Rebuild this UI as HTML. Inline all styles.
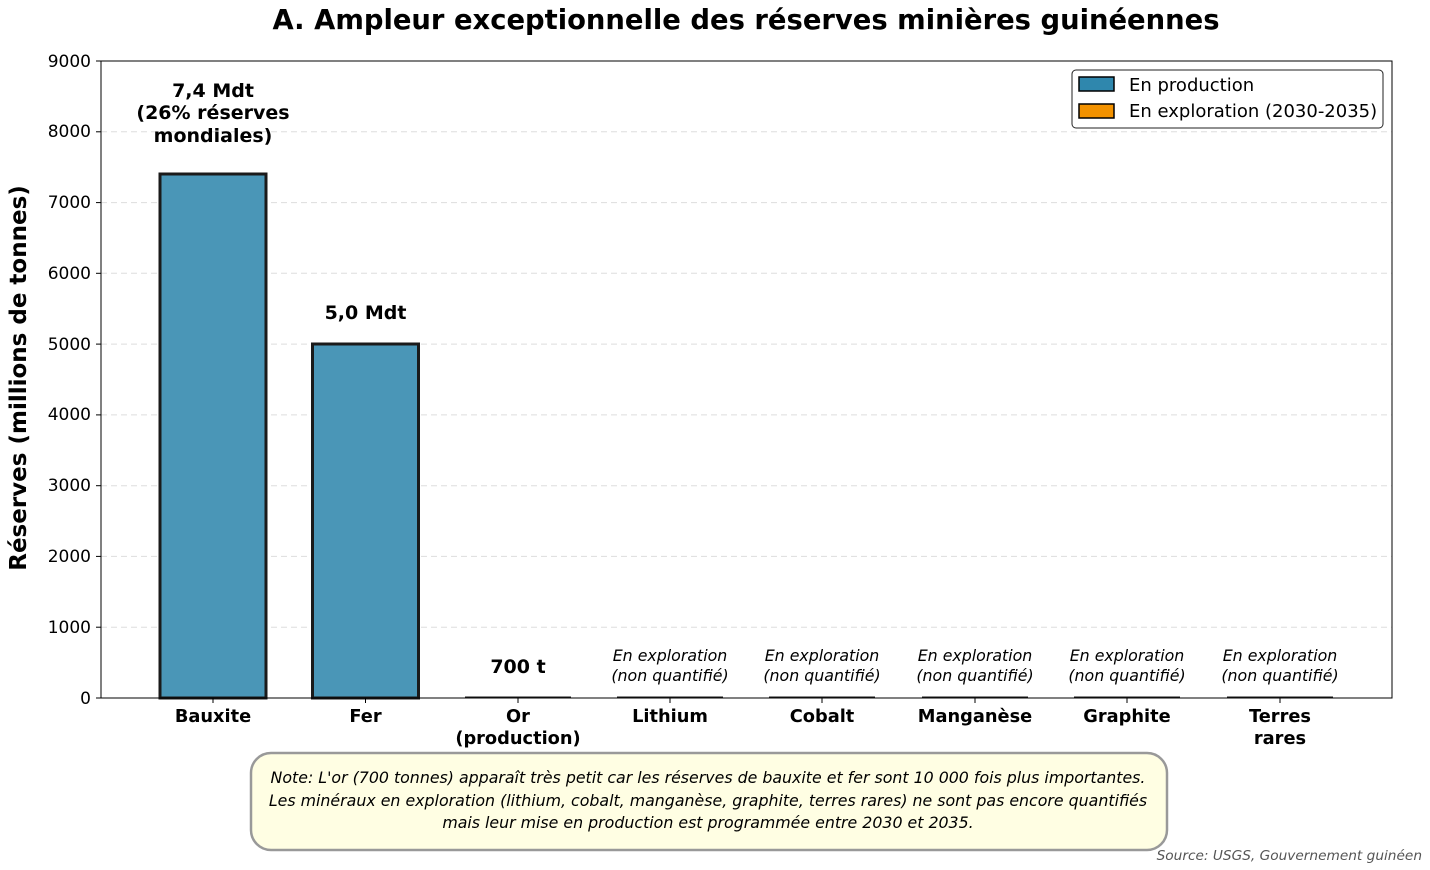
<!DOCTYPE html><html><head><meta charset="utf-8"><style>body{margin:0;background:#fff}svg{display:block}text{font-family:"DejaVu Sans","Liberation Sans",sans-serif}</style></head><body>
<svg width="1430" height="870" xmlns="http://www.w3.org/2000/svg">
<text x="746" y="29" text-anchor="middle" font-size="27.4" font-weight="bold">A. Ampleur exceptionnelle des réserves minières guinéennes</text>
<g stroke="#ddd" stroke-dasharray="6,4" stroke-width="1">
<line x1="101" x2="1392" y1="627.2" y2="627.2"/><line x1="101" x2="1392" y1="556.4" y2="556.4"/><line x1="101" x2="1392" y1="485.7" y2="485.7"/><line x1="101" x2="1392" y1="414.9" y2="414.9"/><line x1="101" x2="1392" y1="344.1" y2="344.1"/><line x1="101" x2="1392" y1="273.3" y2="273.3"/><line x1="101" x2="1392" y1="202.6" y2="202.6"/><line x1="101" x2="1392" y1="131.8" y2="131.8"/>
</g>
<rect x="160" y="174" width="106" height="524" fill="#4a96b7" stroke="#1a1a1a" stroke-width="3"/>
<rect x="312.5" y="344" width="106" height="354" fill="#4a96b7" stroke="#1a1a1a" stroke-width="3"/>
<g stroke="#1a1a1a" stroke-width="2"><line x1="465" x2="571" y1="697.5" y2="697.5"/><line x1="617" x2="723" y1="697.5" y2="697.5"/><line x1="769" x2="875" y1="697.5" y2="697.5"/><line x1="922" x2="1028" y1="697.5" y2="697.5"/><line x1="1074" x2="1180" y1="697.5" y2="697.5"/><line x1="1227" x2="1333" y1="697.5" y2="697.5"/></g>
<rect x="101" y="61" width="1291" height="637" fill="none" stroke="#000" stroke-width="1"/>
<g font-size="17" text-anchor="end">
<text x="91" y="704">0</text><text x="91" y="633">1000</text><text x="91" y="562">2000</text><text x="91" y="491">3000</text><text x="91" y="420">4000</text><text x="91" y="350">5000</text><text x="91" y="279">6000</text><text x="91" y="208">7000</text><text x="91" y="137">8000</text><text x="91" y="67">9000</text>
</g>
<g stroke="#000"><line x1="96" x2="101" y1="698" y2="698"/><line x1="96" x2="101" y1="627.2" y2="627.2"/><line x1="96" x2="101" y1="556.4" y2="556.4"/><line x1="96" x2="101" y1="485.7" y2="485.7"/><line x1="96" x2="101" y1="414.9" y2="414.9"/><line x1="96" x2="101" y1="344.1" y2="344.1"/><line x1="96" x2="101" y1="273.3" y2="273.3"/><line x1="96" x2="101" y1="202.6" y2="202.6"/><line x1="96" x2="101" y1="131.8" y2="131.8"/><line x1="96" x2="101" y1="61" y2="61"/>
<line x1="213" x2="213" y1="698" y2="703"/><line x1="365.5" x2="365.5" y1="698" y2="703"/><line x1="518" x2="518" y1="698" y2="703"/><line x1="670" x2="670" y1="698" y2="703"/><line x1="822" x2="822" y1="698" y2="703"/><line x1="975" x2="975" y1="698" y2="703"/><line x1="1127" x2="1127" y1="698" y2="703"/><line x1="1280" x2="1280" y1="698" y2="703"/></g>
<text transform="translate(26,378) rotate(-90)" text-anchor="middle" font-size="23" font-weight="bold">Réserves (millions de tonnes)</text>
<g font-size="17.8" font-weight="bold" text-anchor="middle">
<text x="213" y="722">Bauxite</text><text x="365.5" y="722">Fer</text><text x="518" y="722">Or</text><text x="518" y="744">(production)</text><text x="670" y="722">Lithium</text><text x="822" y="722">Cobalt</text><text x="975" y="722">Manganèse</text><text x="1127" y="722">Graphite</text><text x="1280" y="722">Terres</text><text x="1280" y="744">rares</text>
<text x="213" y="97" font-size="19">7,4 Mdt</text><text x="213" y="119" font-size="19">(26% réserves</text><text x="213" y="142" font-size="19">mondiales)</text>
<text x="365.5" y="319" font-size="19">5,0 Mdt</text><text x="518" y="673" font-size="19">700 t</text>
</g>
<g font-size="15.8" font-style="italic" text-anchor="middle">
<text x="670" y="661">En exploration</text><text x="670" y="681">(non quantifié)</text>
<text x="822" y="661">En exploration</text><text x="822" y="681">(non quantifié)</text>
<text x="975" y="661">En exploration</text><text x="975" y="681">(non quantifié)</text>
<text x="1127" y="661">En exploration</text><text x="1127" y="681">(non quantifié)</text>
<text x="1280" y="661">En exploration</text><text x="1280" y="681">(non quantifié)</text>
</g>
<rect x="1072" y="70" width="311" height="58" rx="4" fill="#fff" stroke="#222" stroke-width="1"/>
<rect x="1079" y="77" width="35" height="14" fill="#2f87ad" stroke="#000" stroke-width="1.5"/>
<rect x="1079" y="104" width="35" height="14" fill="#f39200" stroke="#000" stroke-width="1.5"/>
<text x="1129" y="91" font-size="18">En production</text>
<text x="1129" y="117" font-size="18">En exploration (2030-2035)</text>
<rect x="251" y="753" width="916" height="97" rx="20" fill="#fffee3" stroke="#999" stroke-width="2.5"/>
<g font-size="15.8" font-style="italic" text-anchor="middle">
<text x="708" y="783">Note: L'or (700 tonnes) apparaît très petit car les réserves de bauxite et fer sont 10 000 fois plus importantes.</text>
<text x="708" y="806">Les minéraux en exploration (lithium, cobalt, manganèse, graphite, terres rares) ne sont pas encore quantifiés</text>
<text x="708" y="828">mais leur mise en production est programmée entre 2030 et 2035.</text>
</g>
<text x="1422" y="860" font-size="13.7" font-style="italic" fill="#555" text-anchor="end">Source: USGS, Gouvernement guinéen</text>
</svg></body></html>
